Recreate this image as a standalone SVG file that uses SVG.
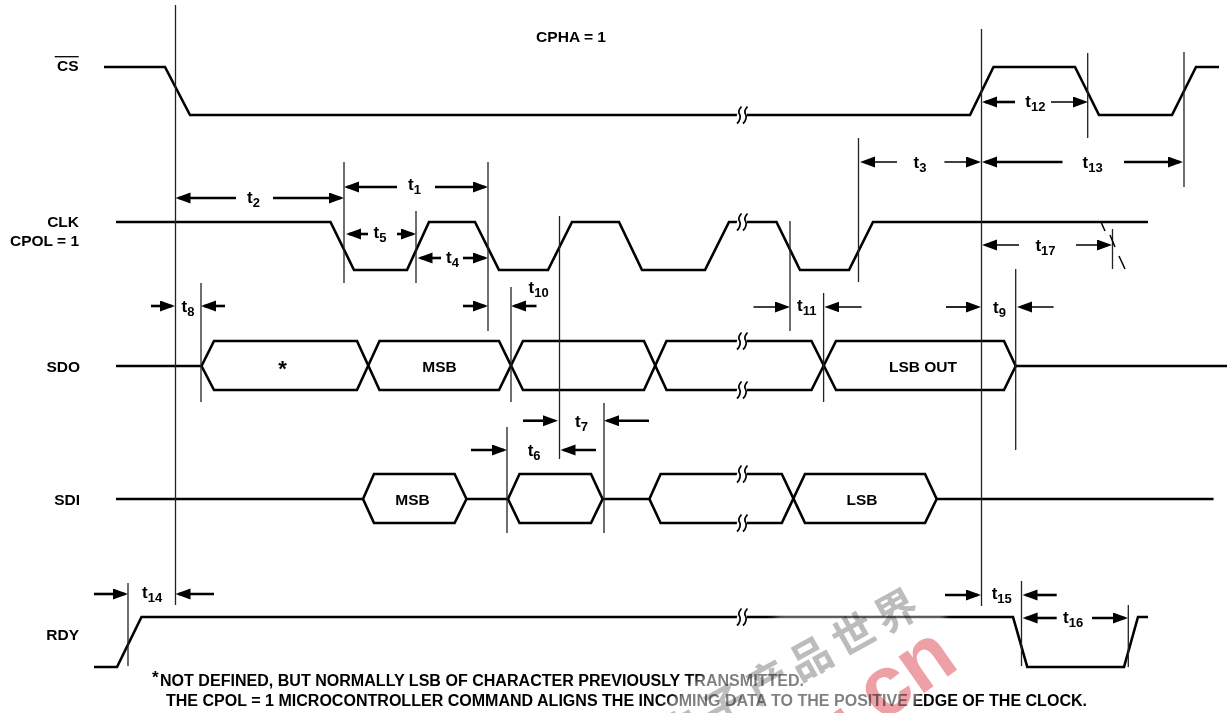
<svg xmlns="http://www.w3.org/2000/svg" width="1227" height="713" viewBox="0 0 1227 713">
<style>
text{font-family:"Liberation Sans",Arial,sans-serif;font-weight:bold;font-size:15.500px;fill:#000}
.r{text-anchor:end}
.m{text-anchor:middle}
.t{font-size:17px}
.t tspan{font-size:13px}
.n{font-size:16px}
.sig{fill:none;stroke:#000;stroke-width:2.6;stroke-linejoin:miter}
.v{stroke:#222;stroke-width:1.3;fill:none}
.a,.b{stroke:#000;fill:none;marker-end:url(#ah)}
.a{stroke-width:2.6}
.b{stroke-width:1.7}
.wm{mix-blend-mode:multiply}
</style>
<defs>
<marker id="ah" markerUnits="userSpaceOnUse" markerWidth="16" markerHeight="12" refX="12" refY="5.5" orient="auto"><path d="M0,0L15,5.5L0,11z" fill="#000"/></marker>
<g id="brk"><path d="M-4,-4H5V4H-6z" fill="#fff"/><path d="M-0.500,-8.500C-3,-5.500 -4,-3 -2.500,-1C-1,1.500 -2,6 -5,8.500M5.500,-8.500C3,-5.500 2,-3 3.500,-1C5,1.500 4,6 1,8.500" fill="none" stroke="#000" stroke-width="1.700"/></g>
<filter id="soft" x="-20%" y="-20%" width="140%" height="140%"><feGaussianBlur stdDeviation="3"/></filter>
</defs>

<g id="CS">
<text class="r" x="78.500" y="71">CS</text>
<path d="M54.700,56.700H78.700" stroke="#000" stroke-width="1.300"/>
<path class="sig" d="M104,67H165L190,115H970L993.500,67H1075L1099,115H1172L1196,67H1219"/>
<use href="#brk" x="742" y="115"/>
</g>

<g id="CLK">
<text class="r" x="79" y="227">CLK</text>
<text class="r" x="79" y="246">CPOL = 1</text>
<path class="sig" d="M116,222H330.500L354,270H407L429,222H475L499,270H548L572,222H619L642,270H705L729,222H776.500L800,270H849L873,222H1148"/>
<use href="#brk" x="742" y="222"/>
</g>

<g id="SDO">
<text class="r" x="80" y="372">SDO</text>
<path class="sig" d="M116,366H201.500L214,341H357L379.500,390H499L523,341H644L666.500,390H811.500L836,341H1004L1015.700,366H1227"/>
<path class="sig" d="M201.500,366L214,390H357L379.500,341H499L523,390H644L666.500,341H811.500L836,390H1004L1015.700,366"/>
<use href="#brk" x="742" y="341"/>
<use href="#brk" x="742" y="390"/>
<text class="m" x="282.500" y="376" style="font-size:22px">*</text>
<text class="m" x="439.500" y="372">MSB</text>
<text class="m" x="923" y="372">LSB OUT</text>
</g>

<g id="SDI">
<text class="r" x="80" y="505">SDI</text>
<path class="sig" d="M116,499H363L374,474H454.600L466.500,499H508L519.500,474H591L602.600,499H649.400L660.600,474H781.800L805,523H925L936.700,499H1213.500"/>
<path class="sig" d="M363,499L374,523H454.600L466.500,499M508,499L519.500,523H591L602.600,499M649.400,499L660.600,523H781.800L805,474H925L936.700,499"/>
<use href="#brk" x="742" y="474"/>
<use href="#brk" x="742" y="523"/>
<text class="m" x="412.500" y="505">MSB</text>
<text class="m" x="862" y="505">LSB</text>
</g>

<g id="RDY">
<text class="r" x="79" y="640">RDY</text>
<path class="sig" d="M94,667H117L141.500,617H1013L1027.300,667H1124L1138,617H1148"/>
<use href="#brk" x="742" y="617"/>
</g>

<g id="connectors">
<path class="v" d="M175.500,5V605M981.500,29V606M344,162V283M488,162V331M416,211V283M559.500,216V459M201,283V402M511,287V402M790,221V331M823.600,293V402M858.500,138V282M1015.700,269V450M1087.700,53V138M1184,52V187M1112.500,229V269M604,403V533M507,427V533M128,583V666M1021.500,581V666M1128.300,605V667"/>
<path d="M1101,222L1105,231M1110,235L1115,247M1119,256L1125,269" stroke="#000" stroke-width="1.5" fill="none"/>
<path class="a" d="M236,198H178.500"/><path class="a" d="M273,198H341"/>
<path class="a" d="M397,187H347"/><path class="a" d="M435,187H485"/>
<path class="a" d="M368,234H349"/><path class="a" d="M397,234H413"/>
<path class="a" d="M441,258H420.500"/><path class="a" d="M463,258H485"/>
<path class="a" d="M151,306H172"/><path class="a" d="M225,306H204"/>
<path class="a" d="M463,306H485"/><path class="a" d="M536.500,306H514"/>
<path class="a" d="M1015,102H985"/><path class="b" d="M1051,102H1085"/>
<path class="a" d="M1062.500,162H985"/><path class="a" d="M1124,162H1180"/>
<path class="b" d="M897,162H863"/><path class="b" d="M944.400,162H978"/>
<path class="b" d="M1019,245H985"/><path class="b" d="M1076,245H1109"/>
<path class="b" d="M753.500,307H787"/><path class="b" d="M861.600,307H827.400"/>
<path class="b" d="M946,307H978"/><path class="b" d="M1053.600,307H1020"/>
<path class="a" d="M523,420.700H555"/><path class="a" d="M649,420.700H607"/>
<path class="a" d="M471,450H504"/><path class="a" d="M596,450H563.500"/>
<path class="a" d="M94,594H125"/><path class="a" d="M214,594H178.500"/>
<path class="a" d="M945,595H978"/><path class="a" d="M1056.700,595H1025.500"/>
<path class="a" d="M1056.700,618H1025.600"/><path class="a" d="M1092,618H1125"/>
</g>

<g id="timing-labels">
<text class="t" x="408" y="190">t<tspan dy="4">1</tspan></text>
<text class="t" x="247" y="203">t<tspan dy="4">2</tspan></text>
<text class="t" x="373.500" y="238">t<tspan dy="4">5</tspan></text>
<text class="t" x="446" y="263">t<tspan dy="4">4</tspan></text>
<text class="t" x="181.500" y="312">t<tspan dy="4">8</tspan></text>
<text class="t" x="528.500" y="293">t<tspan dy="4">10</tspan></text>
<text class="t" x="913.500" y="168">t<tspan dy="4">3</tspan></text>
<text class="t" x="1082.600" y="168">t<tspan dy="4">13</tspan></text>
<text class="t" x="1025.300" y="107">t<tspan dy="4">12</tspan></text>
<text class="t" x="1035.400" y="251">t<tspan dy="4">17</tspan></text>
<text class="t" x="797" y="311">t<tspan dy="4">11</tspan></text>
<text class="t" x="993" y="313">t<tspan dy="4">9</tspan></text>
<text class="t" x="575" y="427">t<tspan dy="4">7</tspan></text>
<text class="t" x="527.700" y="456">t<tspan dy="4">6</tspan></text>
<text class="t" x="142" y="598">t<tspan dy="4">14</tspan></text>
<text class="t" x="991.700" y="599">t<tspan dy="4">15</tspan></text>
<text class="t" x="1063" y="623">t<tspan dy="4">16</tspan></text>
</g>

<g id="notes">
<text x="536" y="42" textLength="70" lengthAdjust="spacingAndGlyphs">CPHA = 1</text>
<text x="152" y="683" style="font-size:17px">*</text>
<text class="n" x="160" y="686" textLength="644" lengthAdjust="spacingAndGlyphs">NOT DEFINED, BUT NORMALLY LSB OF CHARACTER PREVIOUSLY TRANSMITTED.</text>
<text class="n" x="166" y="706" textLength="921" lengthAdjust="spacingAndGlyphs">THE CPOL = 1 MICROCONTROLLER COMMAND ALIGNS THE INCOMING DATA TO THE POSITIVE EDGE OF THE CLOCK.</text>
</g>

<g id="watermark">
<path d="M640,725L780,615H945V640L905,725z" fill="#fff" opacity=".5" filter="url(#soft)"/>
<text class="wm" transform="translate(671,753) rotate(-29)" style="font-family:'Noto Sans CJK SC',sans-serif;font-weight:bold;font-size:42px;letter-spacing:7px;fill:#bcbcbc">电子产品世界</text>
<text class="wm" transform="translate(881,723) rotate(-35)" style="font-size:84px;fill:#eda0a5">cn</text>
<text class="wm" transform="translate(832,732) rotate(-35)" style="font-size:100px;fill:#eda0a5">.</text>
</g>
</svg>
